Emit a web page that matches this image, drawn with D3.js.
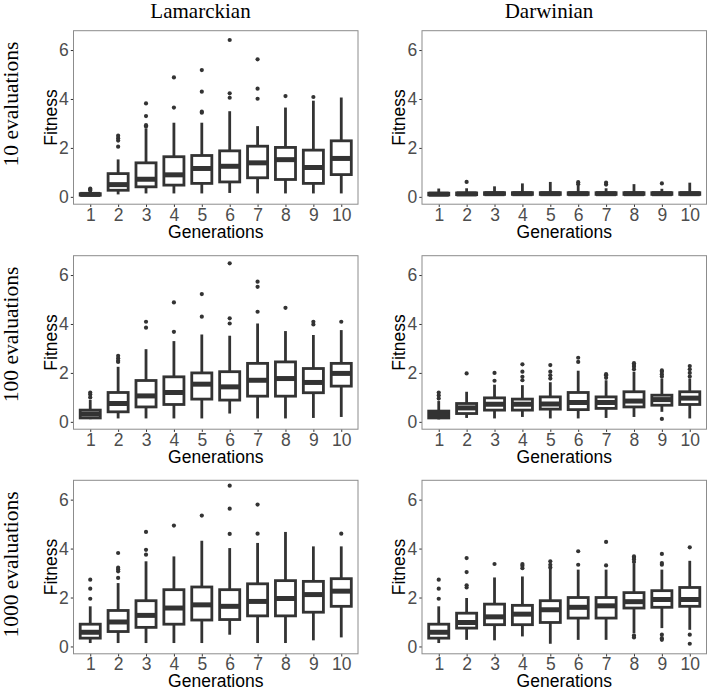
<!DOCTYPE html>
<html><head><meta charset="utf-8">
<script src="https://cdn.jsdelivr.net/npm/d3@7"></script>
<style>body{margin:0;background:#fff}</style>
</head><body>
<script>
// ---------- data ----------
const generations = ["1","2","3","4","5","6","7","8","9","10"];
const yTicks = [0, 2, 4, 6];
const columnTitles = ["Lamarckian", "Darwinian"];
const rowTitles = ["10 evaluations", "100 evaluations", "1000 evaluations"];

// box stats per generation: [lower whisker, q1, median, q3, upper whisker]
const lam10 = [[0.04,0.07,0.10,0.13,0.22],[0.10,0.27,0.50,0.95,1.53],[0.14,0.41,0.72,1.39,2.80],[0.14,0.48,0.90,1.64,3.03],[0.14,0.55,1.16,1.69,3.03],[0.16,0.61,1.25,1.88,3.50],[0.14,0.78,1.39,2.07,2.89],[0.14,0.71,1.52,2.02,3.65],[0.14,0.55,1.20,1.91,3.93],[0.14,0.91,1.57,2.29,4.06]];
const lam10Out = [[0.26,0.30,0.34],[2.05,2.30,2.40,2.50],[2.88,2.93,3.30,3.82],[3.65,4.88],[3.44,3.48,4.30,5.18],[4.05,4.23,6.41],[4.01,4.42,5.62],[4.12],[4.08],[]];
const dar10 = [[0.05,0.08,0.11,0.15,0.34],[0.05,0.09,0.12,0.16,0.35],[0.06,0.10,0.13,0.17,0.43],[0.06,0.10,0.13,0.17,0.55],[0.06,0.10,0.13,0.17,0.61],[0.06,0.10,0.13,0.17,0.45],[0.06,0.10,0.13,0.17,0.35],[0.06,0.10,0.13,0.17,0.52],[0.06,0.10,0.13,0.17,0.33],[0.06,0.10,0.13,0.17,0.58]];
const dar10Out = [[],[0.61],[],[],[],[0.52,0.60],[0.50,0.58],[],[0.55],[]];

const lam100 = [[0.11,0.16,0.32,0.48,0.90],[0.14,0.41,0.75,1.20,2.25],[0.14,0.61,1.06,1.69,2.97],[0.14,0.71,1.20,1.84,3.30],[0.14,0.93,1.54,2.00,3.57],[0.34,0.89,1.43,2.05,3.52],[0.14,1.05,1.70,2.39,4.02],[0.14,1.05,1.77,2.45,3.71],[0.16,1.19,1.61,2.18,3.55],[0.20,1.46,1.98,2.39,3.75]];
const lam100Out = [[1.00,1.12,1.20],[2.45,2.50,2.60,2.70],[3.85,4.09],[3.68,4.88],[4.30,5.22],[4.02,4.23,6.48],[4.50,5.52,5.73],[4.66],[3.98,4.09],[4.09]];
const dar100 = [[0.10,0.16,0.30,0.44,0.85],[0.16,0.34,0.57,0.75,1.23],[0.14,0.48,0.72,0.98,1.52],[0.20,0.48,0.72,0.93,1.50],[0.14,0.52,0.73,1.02,1.62],[0.14,0.50,0.79,1.20,2.09],[0.16,0.55,0.79,1.02,1.70],[0.20,0.61,0.85,1.23,2.05],[0.41,0.68,0.91,1.09,1.77],[0.14,0.71,0.97,1.23,1.77]];
const dar100Out = [[0.95,1.08,1.20],[1.98],[1.68,2.00],[1.70,1.84,2.05,2.35],[1.77,1.90,2.05,2.32],[2.45,2.62],[1.80,1.90,1.95],[2.15,2.25,2.32,2.40],[0.12,1.85,1.95,2.05,2.10],[1.85,2.00,2.15,2.28]];

const lam1000 = [[0.14,0.34,0.58,0.91,1.64],[0.14,0.61,1.00,1.47,2.59],[0.14,0.78,1.27,1.87,3.48],[0.14,0.91,1.57,2.32,3.68],[0.14,1.08,1.70,2.43,4.32],[0.48,1.10,1.64,2.32,4.02],[0.14,1.25,1.84,2.56,4.23],[0.14,1.25,1.96,2.69,4.68],[0.25,1.40,2.12,2.66,4.09],[0.37,1.64,2.26,2.77,4.09]];
const lam1000Out = [[1.95,2.36,2.73],[2.80,3.07,3.15,3.22,3.82],[3.75,3.95,4.68],[4.94],[5.35],[4.60,5.63,6.57],[4.61,5.80],[],[],[4.61]];
const dar1000 = [[0.14,0.34,0.58,0.91,1.64],[0.27,0.75,0.98,1.36,1.98],[0.25,0.89,1.21,1.73,2.82],[0.41,0.89,1.32,1.68,2.86],[0.11,0.98,1.50,1.87,3.20],[0.27,1.16,1.60,2.00,3.14],[0.27,1.16,1.66,2.00,3.14],[0.55,1.57,1.83,2.20,3.37],[0.75,1.60,1.92,2.28,3.14],[0.68,1.64,1.92,2.41,3.50]];
const dar1000Out = [[1.95,2.36,2.73],[2.41,2.50,3.04,3.61],[3.37],[3.20,3.30,3.37],[3.23,3.34,3.48],[3.34,3.89],[3.31,4.27],[0.37,0.45,3.45,3.55,3.62,3.68],[0.27,0.34,0.48,3.34,3.41,3.78],[0.11,0.48,4.05]];

const panels = [
  [lam10, lam10Out], [dar10, dar10Out],
  [lam100, lam100Out], [dar100, dar100Out],
  [lam1000, lam1000Out], [dar1000, dar1000Out]
];

// ---------- layout ----------
const W = 709, H = 690;
const colX = [73.5, 422];
const panelW = 284.5;
const rowY = [30.7, 255.7, 480.3];
const panelH = 173.5;
const ink = "#333333";
const sans = "Liberation Sans, Arial, sans-serif";

const svg = d3.select("body").append("svg").attr("width", W).attr("height", H);

// ggplot discrete expansion of 0.6 units on each side
const step = panelW / (generations.length - 1 + 1.2);
const xc = d3.scalePoint().domain(generations).range([0.6 * step, panelW - 0.6 * step]);
const y = d3.scaleLinear().domain([-0.3, 6.79]).range([panelH, 0]);
const boxW = 0.72 * step;

panels.forEach((p, i) => {
  const [stats, outs] = p;
  const col = i % 2, row = Math.floor(i / 2);
  const g = svg.append("g").attr("transform", `translate(${colX[col]},${rowY[row]})`);

  // y axis
  const ya = g.append("g").call(d3.axisLeft(y).tickValues(yTicks).tickSize(2.7).tickPadding(2).tickFormat(d3.format("d")));
  ya.select(".domain").remove();
  ya.selectAll("line").attr("stroke", ink).attr("stroke-width", 1);
  ya.selectAll("text").attr("fill", "#4D4D4D").style("font-family", sans).style("font-size", "17.5px");

  // x axis
  const xa = g.append("g").attr("transform", `translate(0,${panelH})`).call(d3.axisBottom(xc).tickSize(2.7).tickPadding(1.5));
  xa.select(".domain").remove();
  xa.selectAll("line").attr("stroke", ink).attr("stroke-width", 1);
  xa.selectAll("text").attr("fill", "#4D4D4D").style("font-family", sans).style("font-size", "17.5px");

  // boxes
  const bg = g.append("g");
  stats.forEach((s, k) => {
    const cx = xc(generations[k]);
    const [lo, q1, md, q3, hi] = s;
    bg.append("line").attr("x1", cx).attr("x2", cx).attr("y1", y(q3)).attr("y2", y(hi)).attr("stroke", ink).attr("stroke-width", 2.8);
    bg.append("line").attr("x1", cx).attr("x2", cx).attr("y1", y(q1)).attr("y2", y(lo)).attr("stroke", ink).attr("stroke-width", 2.8);
    bg.append("rect").attr("x", cx - boxW / 2).attr("width", boxW)
      .attr("y", y(q3)).attr("height", Math.max(0.01, y(q1) - y(q3)))
      .attr("fill", "#fff").attr("stroke", ink).attr("stroke-width", 2.8);
    bg.append("line").attr("x1", cx - boxW / 2).attr("x2", cx + boxW / 2).attr("y1", y(md)).attr("y2", y(md)).attr("stroke", ink).attr("stroke-width", 5);
    outs[k].forEach(v => {
      bg.append("circle").attr("cx", cx).attr("cy", y(v)).attr("r", 2.1).attr("fill", ink);
    });
  });

  // panel border
  g.append("rect").attr("width", panelW).attr("height", panelH).attr("fill", "none").attr("stroke", "#8c8c8c").attr("stroke-width", 1);

  // axis titles
  g.append("text").attr("transform", `translate(${-17},${panelH / 2}) rotate(-90)`)
    .attr("text-anchor", "middle").attr("fill", "#000")
    .style("font-family", sans).style("font-size", "17.5px").text("Fitness");
  g.append("text").attr("x", panelW / 2).attr("y", panelH + 33.5).attr("text-anchor", "middle").attr("fill", "#000")
    .style("font-family", sans).style("font-size", "17.5px").text("Generations");
});

// column titles
[200.5, 549].forEach((cx, i) => {
  svg.append("text").attr("x", cx).attr("y", 17.5).attr("text-anchor", "middle").attr("fill", "#000")
    .style("font-family", "Liberation Serif, serif").style("font-size", "21px").text(columnTitles[i]);
});
// row titles
rowY.forEach((ry, i) => {
  svg.append("text").attr("transform", `translate(17.5,${ry + 11}) rotate(-90)`)
    .attr("text-anchor", "end").attr("fill", "#000")
    .style("font-family", "Liberation Serif, serif").style("font-size", "21.5px").text(rowTitles[i]);
});
</script>
</body></html>
